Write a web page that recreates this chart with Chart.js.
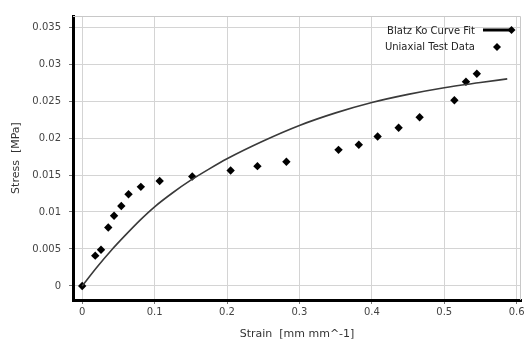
<!DOCTYPE html>
<html>
<head>
<meta charset="utf-8">
<script src="https://cdn.jsdelivr.net/npm/chart.js@4"></script>
<style>
  html, body { margin: 0; padding: 0; background: #fff; overflow: hidden; }
  #wrap { width: 531px; height: 339px; position: relative; overflow: hidden; }
</style>
</head>
<body>
<div id="wrap"><canvas id="myChart" width="531" height="341"></canvas></div>
<script>
// chart data

let testStrain = [0, 0.018, 0.026, 0.036, 0.044, 0.054, 0.064, 0.081, 0.107, 0.152,
  0.205, 0.242, 0.282, 0.354, 0.382, 0.408, 0.437, 0.466, 0.514, 0.530, 0.545];
let testStress = [0, 0.0041, 0.0049, 0.0079, 0.0095, 0.0108, 0.0124, 0.0134, 0.0142, 0.0148,
  0.0156, 0.0162, 0.0168, 0.0184, 0.0191, 0.0202, 0.0214, 0.0228, 0.0251, 0.0276, 0.0287];

let fitStrain = [0, 0.02, 0.04, 0.06, 0.08, 0.1, 0.125, 0.15, 0.175, 0.2,
  0.25, 0.3, 0.35, 0.4, 0.45, 0.5, 0.55, 0.587];
let fitStress = [0, 0.0025, 0.0048, 0.0069, 0.0089, 0.0107, 0.0126, 0.0143, 0.0158, 0.0172,
  0.0196, 0.0217, 0.0234, 0.0248, 0.0259, 0.0268, 0.0275, 0.0280];

let xTicks = [0, 0.1, 0.2, 0.3, 0.4, 0.5, 0.6];
let yTicks = [0, 0.005, 0.01, 0.015, 0.02, 0.025, 0.03, 0.035];

let fitLabel = "Blatz Ko Curve Fit";
let testLabel = "Uniaxial Test Data";

function toPoints(xs, ys) {
  let pts = [];
  for (let i = 0; i < xs.length; i++) {
    pts.push({ x: xs[i], y: ys[i] });
  }
  return pts;
}

function drawDiamond(ctx, x, y, r) {
  ctx.beginPath();
  ctx.moveTo(x, y - r);
  ctx.lineTo(x + r, y);
  ctx.lineTo(x, y + r);
  ctx.lineTo(x - r, y);
  ctx.closePath();
  ctx.fill();
}

// frame round the plot area (top and right edges are grey)
const frame = {
  id: "frame",
  beforeDatasetsDraw(chart) {
    let a = chart.chartArea;
    let ctx = chart.ctx;
    ctx.save();
    ctx.strokeStyle = "#c8c8c8";
    ctx.lineWidth = 1;
    ctx.beginPath();
    ctx.moveTo(a.left, a.top + 0.5);
    ctx.lineTo(a.right - 0.5, a.top + 0.5);
    ctx.lineTo(a.right - 0.5, a.bottom);
    ctx.stroke();
    ctx.restore();
  },
};

// legend inside the plot, text on the left, symbol on the right
const rightLegend = {
  id: "rightLegend",
  afterDatasetsDraw(chart) {
    let a = chart.chartArea;
    let ctx = chart.ctx;
    ctx.save();
    ctx.font = "10px 'DejaVu Sans'";
    ctx.fillStyle = "#222";
    ctx.textAlign = "right";
    ctx.textBaseline = "middle";
    ctx.fillText(fitLabel, a.right - 46, a.top + 15);
    ctx.fillText(testLabel, a.right - 46, a.top + 31);

    ctx.strokeStyle = "#000";
    ctx.lineWidth = 3;
    ctx.beginPath();
    ctx.moveTo(a.right - 38, a.top + 14);
    ctx.lineTo(a.right - 10, a.top + 14);
    ctx.stroke();
    ctx.fillStyle = "#000";
    drawDiamond(ctx, a.right - 9.5, a.top + 14, 4);
    drawDiamond(ctx, a.right - 24, a.top + 31, 4);
    ctx.restore();
  },
};

const data = {
  datasets: [
    {
      label: fitLabel,
      data: toPoints(fitStrain, fitStress),
      showLine: true,
      borderColor: "#3a3a3a",
      borderWidth: 1.6,
      pointRadius: 0,
      cubicInterpolationMode: "monotone",
    },
    {
      label: testLabel,
      data: toPoints(testStrain, testStress),
      showLine: false,
      pointStyle: "rectRot",
      pointRadius: 4.2,
      backgroundColor: "#000",
      borderColor: "#000",
      borderWidth: 0,
    },
  ],
};

const config = {
  type: "scatter",
  data: data,
  plugins: [frame, rightLegend],
  options: {
    responsive: false,
    animation: false,
    layout: { padding: { top: 16, right: 10, left: 0, bottom: 0 } },
    plugins: {
      legend: { display: false },
      tooltip: { enabled: false },
    },
    scales: {
      x: {
        type: "linear",
        min: -0.0127,
        max: 0.606,
        afterBuildTicks(axis) {
          axis.ticks = xTicks.map((v) => ({ value: v }));
        },
        afterFit(axis) {
          axis.height = 41;
        },
        ticks: {
          color: "#444",
          font: { family: "DejaVu Sans", size: 10 },
          padding: 2,
          maxRotation: 0,
          callback: (v) => String(Math.round(v * 10) / 10),
        },
        grid: { color: "#d4d4d4", tickLength: 4, tickColor: "#777" },
        border: { color: "#000", width: 3 },
        title: {
          display: true,
          text: "Strain  [mm mm^-1]",
          color: "#333",
          font: { family: "DejaVu Sans", size: 11 },
          padding: { top: 2, bottom: 0 },
        },
      },
      y: {
        type: "linear",
        min: -0.0019,
        max: 0.0365,
        afterBuildTicks(axis) {
          axis.ticks = yTicks.map((v) => ({ value: v }));
        },
        afterFit(axis) {
          axis.width = 73;
        },
        ticks: {
          color: "#444",
          font: { family: "DejaVu Sans", size: 10 },
          padding: 8,
          callback: (v) => String(Math.round(v * 1000) / 1000),
        },
        grid: { color: "#d4d4d4", tickLength: 4, tickColor: "#777" },
        border: { color: "#000", width: 3 },
        title: {
          display: true,
          text: "Stress  [MPa]",
          color: "#333",
          font: { family: "DejaVu Sans", size: 11 },
          padding: { top: 10, bottom: 4 },
        },
      },
    },
  },
};

let canvasChart = document.getElementById("myChart").getContext("2d");
const myChart = new Chart(canvasChart, config);
</script>
</body>
</html>
